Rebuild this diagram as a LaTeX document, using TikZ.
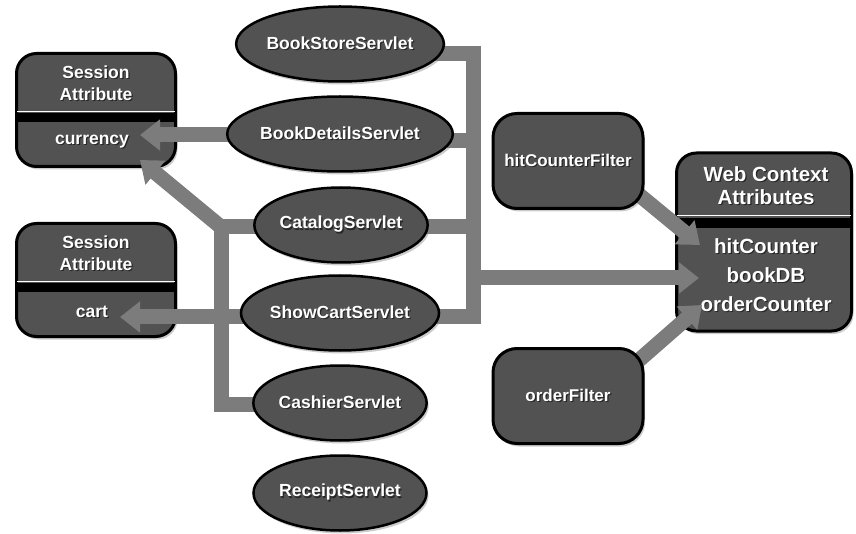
\documentclass[tikz,border=0pt]{standalone}
\usepackage{fontspec}
\setmainfont{Liberation Sans}
\usetikzlibrary{arrows.meta, positioning, shapes.geometric, shadows}

\definecolor{boxgray}{RGB}{82,82,82}
\definecolor{bargray}{RGB}{124,124,124}
\newcommand{\shd}[1]{\makebox[0pt][l]{\kern1.2pt\raisebox{-1.2pt}{\textcolor{black!85}{#1}}}#1}

\pgfdeclarelayer{front}
\pgfsetlayers{main,front}

\tikzset{
  servlet/.style={ellipse, draw=black, line width=2.5pt, fill=boxgray,
    minimum width=173pt, minimum height=75pt, inner sep=0pt, text=white,
    font=\bfseries\fontsize{17.5}{21}\selectfont,
    drop shadow={shadow xshift=2pt, shadow yshift=-3pt, opacity=.4}},
  attrbox/.style={rectangle, rounded corners=20pt, draw=black, line width=3pt,
    fill=boxgray, inner sep=0pt,
    drop shadow={shadow xshift=2pt, shadow yshift=-3pt, opacity=.4}},
  filterbox/.style={attrbox, rounded corners=24pt, minimum width=150pt,
    minimum height=95pt, text=white, font=\bfseries\fontsize{17}{21}\selectfont},
  lbl/.style={text=white, font=\bfseries\fontsize{17.5}{22}\selectfont, align=center},
  biglbl/.style={text=white, font=\bfseries\fontsize{20.5}{23}\selectfont, align=center},
  divider/.style={line width=9pt},
  shine/.style={white, line width=1pt},
  bar/.style={draw=bargray, line width=15pt},
  arrowbar/.style={bar, -{Triangle[width=30pt,length=20pt]}},
}

\begin{document}
\begin{tikzpicture}[x=1pt, y=-1pt]
    \useasboundingbox (0,0) rectangle (856,534);

    % session attributes
    \node[attrbox, minimum width=159pt, minimum height=113pt] (sess1) at (96,110) {};
    \draw[divider] ([yshift=-7.5pt]sess1.west) -- ([yshift=-7.5pt]sess1.east);
    \draw[shine] ([xshift=2pt,yshift=-2pt]sess1.west) -- ([xshift=-2pt,yshift=-2pt]sess1.east);
    \node[lbl] (sess1head) at (96,84) {\shd{Session}\\\shd{Attribute}};
    \node[lbl] (currency) at (92,142) {\shd{currency}};

    \node[attrbox, minimum width=159pt, minimum height=113pt] (sess2) at (96,280) {};
    \draw[divider] ([yshift=-7.5pt]sess2.west) -- ([yshift=-7.5pt]sess2.east);
    \draw[shine] ([xshift=2pt,yshift=-2pt]sess2.west) -- ([xshift=-2pt,yshift=-2pt]sess2.east);
    \node[lbl] (sess2head) at (96,254) {\shd{Session}\\\shd{Attribute}};
    \node[lbl] (cart) at (92,312) {\shd{cart}};

    % web context
    \node[attrbox, minimum width=175pt, minimum height=178pt] (web) at (764,242) {};
    \draw[divider, line width=10pt] ([yshift=19pt]web.west) -- ([yshift=19pt]web.east);
    \draw[shine] ([xshift=2pt,yshift=26pt]web.west) -- ([xshift=-2pt,yshift=26pt]web.east);
    \node[biglbl] (webhead) at (766,186) {\shd{Web Context}\\\shd{Attributes}};
    \node[biglbl, font=\bfseries\fontsize{20.5}{29}\selectfont] (webattr) at (766,276)
        {\shd{hitCounter}\\\shd{bookDB}\\\shd{orderCounter}};

    \begin{pgfonlayer}{front}
        \node[servlet] (store) at (340,44) {\shd{BookStoreServlet}};
        \node[servlet] (details) at (340,134) {\shd{BookDetailsServlet}};
        \node[servlet] (catalog) at (341,225) {\shd{CatalogServlet}};
        \node[servlet] (showcart) at (340,313) {\shd{ShowCartServlet}};
        \node[servlet] (cashier) at (340,403) {\shd{CashierServlet}};
        \node[servlet] (receipt) at (340,493) {\shd{ReceiptServlet}};

        \node[filterbox] (hitfilter) at (568,161) {\shd{hitCounterFilter}};
        \node[filterbox] (orderfilter) at (568,396) {\shd{orderFilter}};
    \end{pgfonlayer}

    % right bus
    \coordinate (rtop) at (473,54);
    \coordinate (rbot) at (473,317);
    \coordinate (rmid) at (473,278);
    \coordinate (webin) at (699,278);
    \draw[bar] ([yshift=-10pt]store.center) -- (rtop) -- (rbot) -- ([yshift=-4pt]showcart.center);
    \draw[bar] ([yshift=-7pt]details.center) -| (rtop);
    \draw[bar] ([yshift=-2pt]catalog.center) -| (rtop);
    \draw[arrowbar] (rmid) -- (webin);

    % left bus
    \coordinate (ltop) at (221,227);
    \coordinate (lbot) at (221,404);
    \coordinate (ljoin) at (227,232);
    \coordinate (curin) at (140,135);
    \coordinate (curin2) at (140,160);
    \coordinate (cartin) at (120,317);
    \draw[bar] ([yshift=-2pt]catalog.center) -- (ltop) -- (lbot) -- ([yshift=-1pt]cashier.center);
    \draw[arrowbar] (ljoin) -- (curin2);
    \draw[arrowbar] ([yshift=-1pt]details.center) -- (curin);
    \draw[arrowbar] ([yshift=-4pt]showcart.center) -- (cartin);

    % filters
    \coordinate (hitin) at (700,245);
    \coordinate (ordin) at (702,305);
    \draw[arrowbar] ([xshift=30pt]hitfilter.center) -- (hitin);
    \draw[arrowbar] ([xshift=30pt]orderfilter.center) -- (ordin);
\end{tikzpicture}
\end{document}
